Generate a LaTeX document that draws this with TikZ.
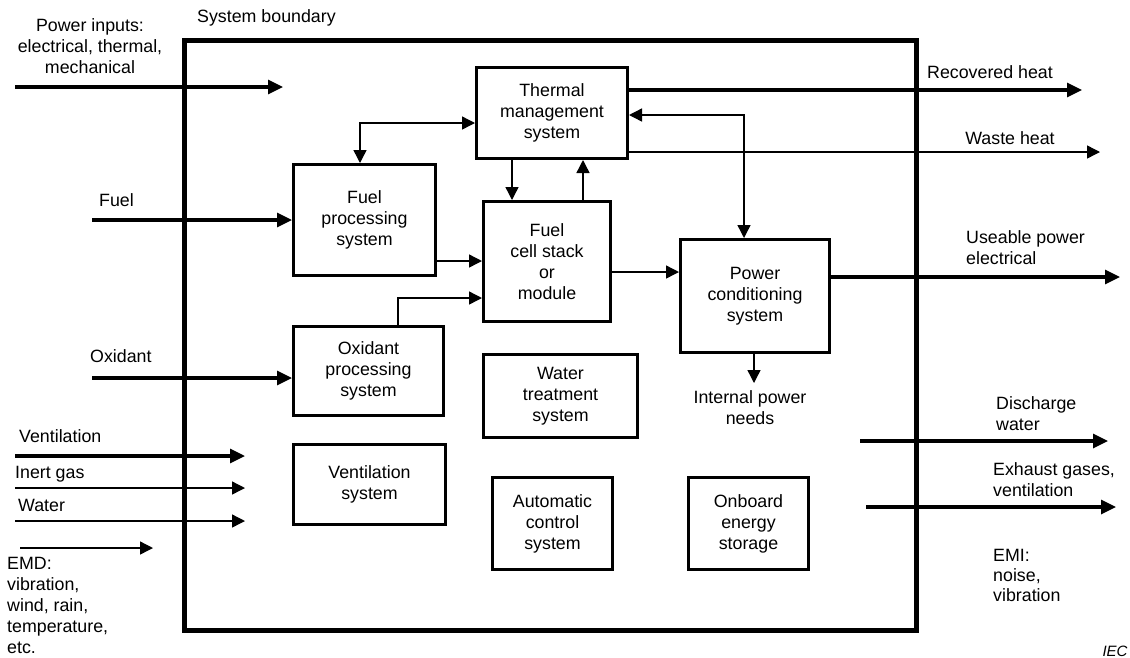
\documentclass[tikz,border=0pt]{standalone}
\usepackage{fontspec}
\setmainfont{Liberation Sans}
\usetikzlibrary{arrows.meta}
\begin{document}
\begin{tikzpicture}[x=1pt,y=-1pt,
  every node/.style={inner sep=0pt, font=\fontsize{17.8}{21}\selectfont},
  sysbox/.style={draw, line width=3pt, align=center},
  lbl/.style={align=left, anchor=west},
  clbl/.style={align=center},
  thickarr/.style={line width=3.2pt, -{Triangle[length=15pt,width=14pt]}},
  thinarr/.style={line width=1.4pt, -{Triangle[length=13pt,width=13pt]}},
  thinboth/.style={line width=1.4pt, {Triangle[length=13pt,width=13pt]}-{Triangle[length=13pt,width=13pt]}}
]
\useasboundingbox (0,0) rectangle (1130,657);
\fill[white] (0,0) rectangle (1130,657);

% system boundary
\draw[line width=5pt] (184,40) rectangle (916,630);
\node[lbl] (sb) at (197,18) {System boundary};

% boxes
\node[sysbox, minimum width=151pt, minimum height=91pt] (th) at (552,113) {Thermal\\management\\system};
\node[sysbox, minimum width=142pt, minimum height=111pt] (fp) at (364.5,220) {Fuel\\processing\\system};
\node[sysbox, minimum width=127pt, minimum height=120pt] (fc) at (547,261.5) {Fuel\\cell stack\\or\\module};
\node[sysbox, minimum width=150pt, minimum height=89pt] (ox) at (368.5,371) {Oxidant\\processing\\system};
\node[sysbox, minimum width=154pt, minimum height=83pt] (wt) at (560.5,396) {Water\\treatment\\system};
\node[sysbox, minimum width=152pt, minimum height=80pt] (vs) at (369.5,484.5) {Ventilation\\system};
\node[sysbox, minimum width=149pt, minimum height=113pt] (pc) at (755,296) {Power\\conditioning\\system};
\node[sysbox, minimum width=120pt, minimum height=92pt] (ac) at (552.5,523.5) {Automatic\\control\\system};
\node[sysbox, minimum width=120pt, minimum height=92pt] (oe) at (748.5,523.5) {Onboard\\energy\\storage};

% internal connectors
\draw[thinboth] (th.west |- 0,123) -| (360,0 |- fp.north);
\draw[thinarr] (512,0 |- th.south) -- (512,0 |- fc.north);
\draw[thinarr] (583,0 |- fc.north) -- (583,0 |- th.south);
\draw[thinarr] (fp.east |- 0,261) -- (fc.west |- 0,261);
\draw[thinarr] (398,0 |- ox.north) |- (fc.west |- 0,298);
\draw[thinarr] (fc.east |- 0,272) -- (pc.west |- 0,272);
\draw[thinboth] (th.east |- 0,115) -| (744,0 |- pc.north);

% free ends
\coordinate (pin0) at (15,87);   \coordinate (pin1) at (283,87);
\coordinate (fuel0) at (92,220);
\coordinate (oxi0) at (92,378);
\coordinate (ven0) at (15,456);  \coordinate (ven1) at (245,456);
\coordinate (ine0) at (15,488);  \coordinate (ine1) at (245,488);
\coordinate (wat0) at (15,521);  \coordinate (wat1) at (245,521);
\coordinate (emd0) at (20,548);  \coordinate (emd1) at (153,548);
\coordinate (rec1) at (1082,90);
\coordinate (was1) at (1100,152);
\coordinate (use1) at (1120,277);
\coordinate (int1) at (754,383);
\coordinate (dis0) at (860,441); \coordinate (dis1) at (1108,441);
\coordinate (exh0) at (866,507); \coordinate (exh1) at (1116,507);

% inputs
\draw[thickarr] (pin0) -- (pin1);
\draw[thickarr] (fuel0) -- (fp.west |- fuel0);
\draw[thickarr] (oxi0) -- (ox.west |- oxi0);
\draw[thickarr] (ven0) -- (ven1);
\draw[thinarr] (ine0) -- (ine1);
\draw[thinarr] (wat0) -- (wat1);
\draw[thinarr] (emd0) -- (emd1);

% outputs
\draw[thickarr] (th.east |- rec1) -- (rec1);
\draw[thinarr] (th.east |- was1) -- (was1);
\draw[thickarr] (pc.east |- use1) -- (use1);
\draw[thinarr] (pc.south -| int1) -- (int1);
\draw[thickarr] (dis0) -- (dis1);
\draw[thickarr] (exh0) -- (exh1);

% labels
\node[clbl] (tpin) at (90,46) {Power inputs:\\electrical, thermal,\\mechanical};
\node[lbl] (tfuel) at (99,200) {Fuel};
\node[lbl] (toxi) at (90,356) {Oxidant};
\node[lbl] (tven) at (19,436) {Ventilation};
\node[lbl] (tine) at (15,474) {Inert gas};
\node[lbl] (twat) at (18,505) {Water};
\node[lbl] (temd) at (7,605) {EMD:\\vibration,\\wind, rain,\\temperature,\\etc.};
\node[clbl] (trec) at (990,72) {Recovered heat};
\node[clbl] (twas) at (1010,138) {Waste heat};
\node[lbl] (tuse) at (966,248) {Useable power\\electrical};
\node[clbl] (tint) at (750,408) {Internal power\\needs};
\node[lbl] (tdis) at (996,414) {Discharge\\water};
\node[lbl] (texh) at (993,480) {Exhaust gases,\\ventilation};
\node[lbl, font=\fontsize{17.8}{20}\selectfont] (temi) at (993,575) {EMI:\\noise,\\vibration};
\node[font=\fontsize{15}{17}\selectfont\itshape] (tiec) at (1115,651) {IEC};
\end{tikzpicture}
\end{document}
